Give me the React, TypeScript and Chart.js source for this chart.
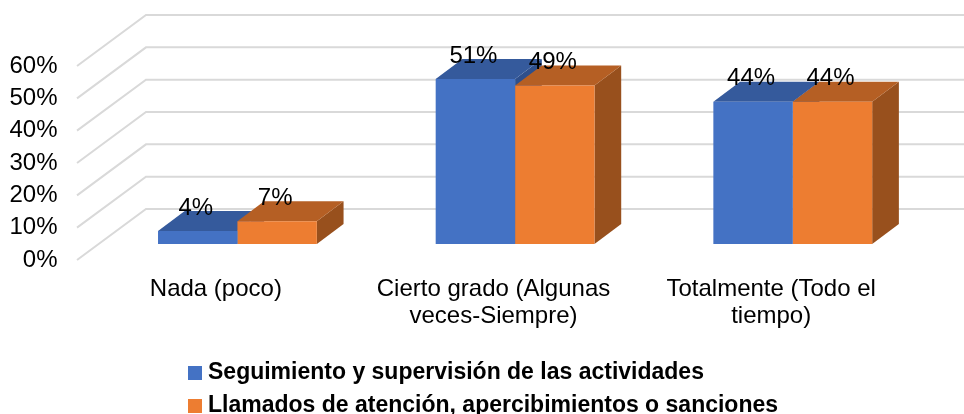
import React, { useEffect, useRef } from "react";
import { Chart, registerables } from "chart.js";

Chart.register(...registerables);

const categories: (string | string[])[] = [
  "Nada (poco)",
  ["Cierto grado (Algunas", "veces-Siempre)"],
  ["Totalmente (Todo el", "tiempo)"],
];
const seriesNames = [
  "Seguimiento y supervisión de las actividades",
  "Llamados de atención, apercibimientos o sanciones",
];
const seguimiento = [4, 51, 44];
const llamados = [7, 49, 44];

const FRONT = ["#4472C4", "#ED7D31"];
const TOP = ["#355A9C", "#B55F24"];
const SIDE = ["#2E4F8C", "#98501D"];
const FONT = "'Liberation Sans', Arial, sans-serif";

const BAR_SHIFT = { x: 21.6, y: -16 };
const BAR_DEPTH = { x: 26.7, y: -20 };
const WALL_DEPTH = { x: 69, y: -51 };

const poly = (ctx: CanvasRenderingContext2D, color: string, pts: number[][]) => {
  ctx.fillStyle = color;
  ctx.beginPath();
  pts.forEach(([x, y], i) => (i ? ctx.lineTo(x, y) : ctx.moveTo(x, y)));
  ctx.closePath();
  ctx.fill();
};

const scene = {
  id: "scene",
  afterLayout(chart: any) {
    const lg = chart.legend;
    if (lg) {
      lg.left = 192.5 - lg.options.labels.padding;
      lg.top = 351.5;
    }
  },
  beforeDatasetsDraw(chart: any) {
    const { ctx, scales, chartArea } = chart;
    ctx.save();
    ctx.strokeStyle = "#D9D9D9";
    ctx.lineWidth = 2;
    scales.y.ticks.forEach((t: any) => {
      const y = scales.y.getPixelForValue(t.value);
      ctx.beginPath();
      ctx.moveTo(chartArea.left, y);
      ctx.lineTo(chartArea.left + WALL_DEPTH.x, y + WALL_DEPTH.y);
      ctx.lineTo(chart.width, y + WALL_DEPTH.y);
      ctx.stroke();
    });
    ctx.restore();

    ctx.save();
    ctx.translate(BAR_SHIFT.x, BAR_SHIFT.y);
    chart.data.datasets.forEach((_: any, d: number) => {
      chart.getDatasetMeta(d).data.forEach((b: any) => {
        const l = b.x - b.width / 2;
        const r = b.x + b.width / 2;
        const dx = BAR_DEPTH.x;
        const dy = BAR_DEPTH.y;
        poly(ctx, SIDE[d], [[r, b.y], [r + dx, b.y + dy], [r + dx, b.base + dy], [r, b.base]]);
        poly(ctx, TOP[d], [[l, b.y], [l + dx, b.y + dy], [r + dx, b.y + dy], [r, b.y]]);
      });
    });
    // The native bars below paint the front faces on the shifted plane.
  },
  afterDatasetsDraw(chart: any) {
    const { ctx } = chart;
    ctx.fillStyle = "#000";
    ctx.font = `24px ${FONT}`;
    ctx.textAlign = "center";
    ctx.textBaseline = "middle";
    chart.data.datasets.forEach((ds: any, d: number) => {
      chart.getDatasetMeta(d).data.forEach((b: any, i: number) => {
        ctx.fillText(`${ds.data[i]}%`, b.x - 2, b.y - 23);
      });
    });
    ctx.restore();
  },
};

export default function App() {
  const ref = useRef<HTMLCanvasElement>(null);
  useEffect(() => {
    document.body.style.margin = "0";
    const swatches = FRONT.map((c) => {
      const s = document.createElement("canvas");
      s.width = 14;
      s.height = 14;
      const g = s.getContext("2d")!;
      g.fillStyle = c;
      g.fillRect(0, 0, 14, 14);
      return s;
    });
    const chart = new Chart(ref.current!, {
      type: "bar",
      data: {
        labels: categories as any,
        datasets: [
          { label: seriesNames[0], data: seguimiento, backgroundColor: FRONT[0] },
          { label: seriesNames[1], data: llamados, backgroundColor: FRONT[1] },
        ],
      },
      options: {
        responsive: false,
        animation: false,
        layout: { padding: { left: 0, right: 54, top: 66, bottom: 0 } },
        datasets: { bar: { barPercentage: 1, categoryPercentage: 0.572, clip: false } } as any,
        scales: {
          x: {
            grid: { display: false, drawTicks: false },
            border: { display: false },
            ticks: {
              color: "#000",
              font: { family: FONT, size: 24, lineHeight: 27 / 24 },
              padding: 16,
              maxRotation: 0,
              autoSkip: false,
            },
            afterFit(s: any) {
              s.height = 414 - 260 - (s.chart.legend?.height ?? 73);
            },
          },
          y: {
            min: 0,
            max: 60,
            grid: { display: false, drawTicks: false },
            border: { display: false },
            ticks: {
              stepSize: 10,
              color: "#000",
              font: { family: FONT, size: 24 },
              padding: 19.5,
              callback: (v: any) => `${v}%`,
            },
            afterFit(s: any) {
              s.width = 77;
            },
          },
        },
        plugins: {
          title: { display: false },
          tooltip: { enabled: false },
          legend: {
            position: "bottom",
            align: "start",
            labels: {
              usePointStyle: true,
              pointStyleWidth: 4,
              boxHeight: 14,
              padding: 10,
              color: "#000",
              font: { family: FONT, size: 23, weight: "bold" },
              generateLabels(c: any) {
                return Chart.defaults.plugins.legend.labels
                  .generateLabels(c)
                  .map((it: any, i: number) => ({ ...it, pointStyle: swatches[i] }));
              },
            },
          },
        },
      } as any,
      plugins: [scene],
    });
    return () => chart.destroy();
  }, []);
  return <canvas ref={ref} width={964} height={414} style={{ display: "block" }} />;
}
